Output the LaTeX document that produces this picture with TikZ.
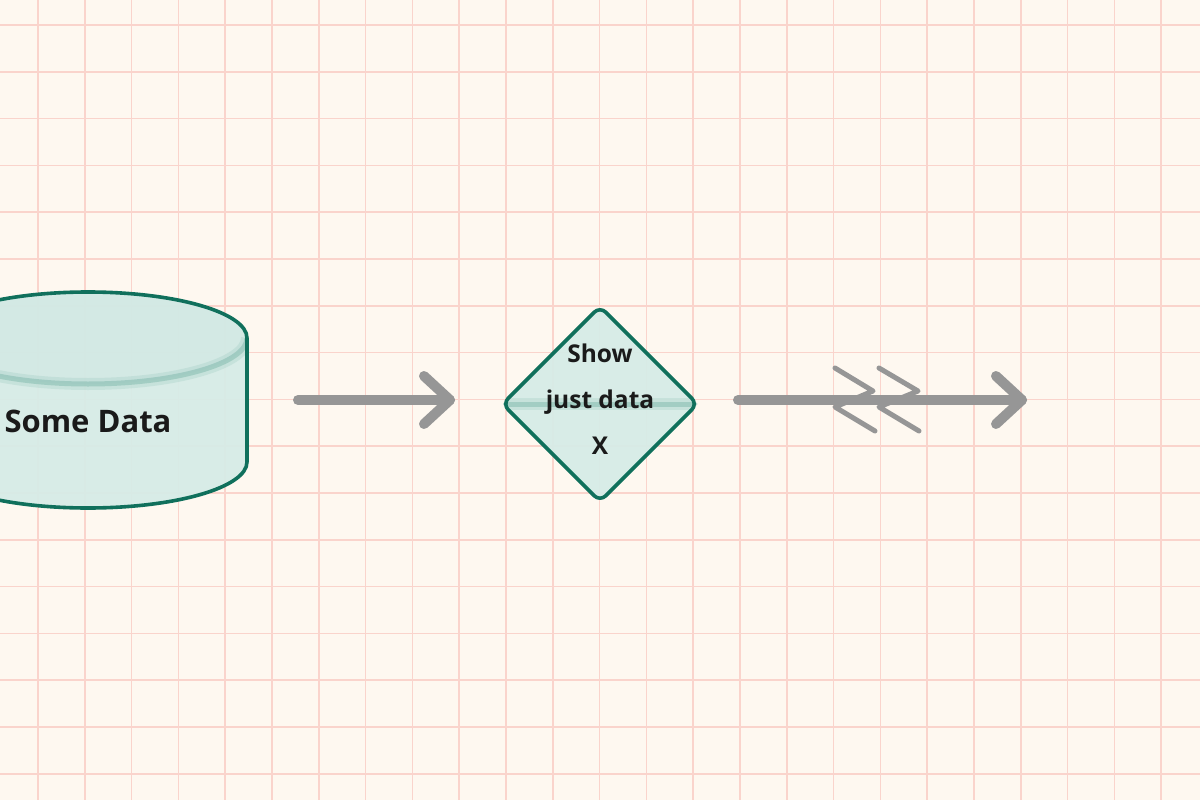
\documentclass[tikz,border=0pt]{standalone}
\usepackage{fontspec}
\setmainfont{Open Sans}
\usetikzlibrary{shapes.geometric,calc}
\definecolor{bgcol}{RGB}{254,248,240}
\definecolor{gridcol}{RGB}{250,212,204}
\definecolor{tealline}{RGB}{16,112,92}
\definecolor{tealfill}{RGB}{214,236,231}
\definecolor{tealtop}{RGB}{208,232,226}
\definecolor{tealband}{RGB}{110,175,160}
\definecolor{arrowgray}{RGB}{150,150,150}
\definecolor{inkcol}{RGB}{26,26,26}
\tikzset{
  gridline/.style={draw=gridcol, line width=1.6pt},
  shapeline/.style={draw=tealline, line width=3.6pt, line join=round},
  conn/.style={draw=arrowgray, line width=10pt, line cap=round, line join=round},
  zig/.style={draw=arrowgray, line width=5pt, line cap=round, line join=round},
  txt/.style={text=inkcol, inner sep=0pt, align=center},
  bandwide/.style={draw=tealband, line width=12pt, opacity=0.16},
  bandnarrow/.style={draw=tealband, line width=5pt, opacity=0.4},
}
\begin{document}
\begin{tikzpicture}[x=1pt,y=-1pt]
\useasboundingbox (0,0) rectangle (1200,800);
\fill[bgcol] (0,0) rectangle (1200,800);
\foreach \k in {0,...,25} \draw[gridline] ({38+46.8*\k},0) -- ({38+46.8*\k},800);
\foreach \k in {0,...,16} \draw[gridline] (0,{25+46.8*\k}) -- (1200,{25+46.8*\k});

% cylinder "Some Data"
\node[minimum width=318pt, minimum height=216pt, inner sep=0pt, outer sep=0pt] (data) at (88,400) {};
\fill[tealfill, fill opacity=0.93] (247,338) -- (247,462) arc[start angle=0,end angle=180,x radius=159,y radius=46] -- (-71,338) arc[start angle=180,end angle=360,x radius=159,y radius=46] -- cycle;
\fill[tealtop, fill opacity=0.6] (88,338) ellipse[x radius=159, y radius=46];
\begin{scope}
\clip (247,338) -- (247,462) arc[start angle=0,end angle=180,x radius=159,y radius=46] -- (-71,338) arc[start angle=180,end angle=360,x radius=159,y radius=46] -- cycle;
\draw[bandwide] (247,338) arc[start angle=0,end angle=180,x radius=159,y radius=46];
\draw[bandnarrow] (247,338) arc[start angle=0,end angle=180,x radius=159,y radius=46];
\end{scope}
\draw[shapeline] (247,338) -- (247,462) arc[start angle=0,end angle=180,x radius=159,y radius=46] -- (-71,338) arc[start angle=180,end angle=360,x radius=159,y radius=46] -- cycle;
\node[txt, font=\fontsize{31}{37}\selectfont\bfseries] (datalabel) at (88,421) {Some Data};

% decision diamond
\node[diamond, aspect=1, minimum width=195pt, minimum height=195pt, inner sep=0pt, outer sep=0pt] (dec) at (600,404) {};
\fill[tealfill, fill opacity=0.93, rounded corners=8pt] (dec.north) -- (dec.east) -- (dec.south) -- (dec.west) -- cycle;
\begin{scope}
\clip (dec.north) -- (dec.east) -- (dec.south) -- (dec.west) -- cycle;
\draw[bandwide] (dec.west) -- (dec.east);
\draw[bandnarrow] (dec.west) -- (dec.east);
\end{scope}
\draw[shapeline, rounded corners=8pt] (dec.north) -- (dec.east) -- (dec.south) -- (dec.west) -- cycle;
\node[txt, font=\fontsize{24.5}{46}\selectfont\bfseries] (dectext) at (600,399) {Show\\just data\\X};

% connector 1
\draw[conn] ([xshift=51pt]data.east) -- ([xshift=-52.5pt]data.east -| dec.west) coordinate (a1);
\draw[conn] ($(a1)+(-26,-24)$) -- (a1) -- ($(a1)+(-26,24)$);

% connector 2 (free end)
\coordinate (s2) at ([xshift=40.5pt]dec.east |- data.east);
\coordinate (a2) at (1022,400);
\draw[conn] (s2) -- (a2);
\draw[conn] ($(a2)+(-26,-24)$) -- (a2) -- ($(a2)+(-26,24)$);
\draw[zig] ($(s2)+(97,-32)$) -- ($(s2)+(135,-9)$) -- ($(s2)+(97,7)$) -- ($(s2)+(137,31)$);
\draw[zig] ($(s2)+(141,-32)$) -- ($(s2)+(180,-9)$) -- ($(s2)+(141,7)$) -- ($(s2)+(181,31)$);
\end{tikzpicture}
\end{document}
